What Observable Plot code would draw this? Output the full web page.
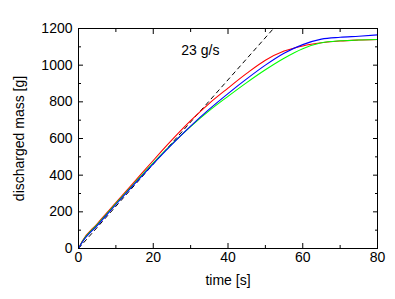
<!DOCTYPE html>
<html>
<head>
<meta charset="utf-8">
<script src="https://cdn.jsdelivr.net/npm/d3@7"></script>
<script src="https://cdn.jsdelivr.net/npm/@observablehq/plot@0.6"></script>
<style>
  html, body { margin: 0; padding: 0; background: #fff; }
  #chart { width: 395px; height: 299px; }
</style>
</head>
<body>
<div id="chart"></div>
<script>
// time axis samples [s]
const time = [0, 1, 5, 10, 15, 20, 25, 30, 35, 40, 45, 50, 55, 60, 65, 70, 75, 80];
// discharged mass [g] per run
const redMass   = [0, 40, 135, 250, 365, 480, 592, 697, 792, 875, 955, 1027, 1077, 1105, 1122, 1132, 1137, 1140];
const greenMass = [0, 37, 130, 245, 357, 467, 570, 665, 752, 830, 905, 975, 1038, 1090, 1122, 1133, 1137, 1140];
const blueMass  = [0, 34, 125, 240, 352, 462, 568, 668, 760, 845, 925, 1000, 1065, 1112, 1142, 1152, 1158, 1165];
const redColor = "#ff0000";
const greenColor = "#00ff00";
const blueColor = "#0000ff";
// reference rate line
const rate = 23; // g/s
const rateLabel = "23 g/s";
const rateLabelPos = {t: 27.5, m: 1080};
const xTicks = [0, 20, 40, 60, 80];
const xMinor = [10, 30, 50, 70];
const yTicks = [0, 200, 400, 600, 800, 1000, 1200];
const yMinor = [100, 300, 500, 700, 900, 1100];
const xDomain = [0, 80];
const yDomain = [0, 1200];

const toRows = (mass) => time.map((t, j) => ({t, m: mass[j]}));
const rateLine = [{t: 0, m: 0}, {t: yDomain[1] / rate, m: yDomain[1]}];
const noText = () => "";
const plain = (d) => String(d);

const font = "'Liberation Sans', Arial, sans-serif";
const chart = Plot.plot({
  width: 395,
  height: 299,
  marginLeft: 78,
  marginRight: 18,
  marginTop: 28,
  marginBottom: 51,
  style: {fontFamily: font, fontSize: "14px", color: "#000", background: "#fff"},
  x: {domain: xDomain},
  y: {domain: yDomain},
  marks: [
    Plot.line(rateLine, {x: "t", y: "m", stroke: "#000", strokeWidth: 1, strokeDasharray: "4,4"}),
    Plot.line(toRows(redMass), {x: "t", y: "m", stroke: redColor, strokeWidth: 1.1, curve: "monotone-x"}),
    Plot.line(toRows(greenMass), {x: "t", y: "m", stroke: greenColor, strokeWidth: 1.1, curve: "monotone-x"}),
    Plot.line(toRows(blueMass), {x: "t", y: "m", stroke: blueColor, strokeWidth: 1.1, curve: "monotone-x"}),
    Plot.text([rateLabelPos], {x: "t", y: "m", text: () => rateLabel, textAnchor: "start", fontSize: 14}),
    Plot.axisX({ticks: xTicks, tickSize: -5, tickPadding: 9, tickFormat: plain, label: "time [s]", labelAnchor: "center", labelArrow: "none", labelOffset: 36, anchor: "bottom"}),
    Plot.axisX({ticks: xMinor, tickSize: -3, tickFormat: noText, label: null, anchor: "bottom"}),
    Plot.axisX({ticks: xTicks, tickSize: -5, tickFormat: noText, label: null, anchor: "top"}),
    Plot.axisX({ticks: xMinor, tickSize: -3, tickFormat: noText, label: null, anchor: "top"}),
    Plot.axisY({ticks: yTicks, tickSize: -5, tickPadding: 11, tickFormat: plain, label: "discharged mass [g]", labelAnchor: "center", labelArrow: "none", labelOffset: 64, anchor: "left"}),
    Plot.axisY({ticks: yMinor, tickSize: -3, tickFormat: noText, label: null, anchor: "left"}),
    Plot.axisY({ticks: yTicks, tickSize: -5, tickFormat: noText, label: null, anchor: "right"}),
    Plot.axisY({ticks: yMinor, tickSize: -3, tickFormat: noText, label: null, anchor: "right"}),
    Plot.frame({stroke: "#000", strokeWidth: 1})
  ]
});
document.getElementById("chart").appendChild(chart);
</script>
</body>
</html>
